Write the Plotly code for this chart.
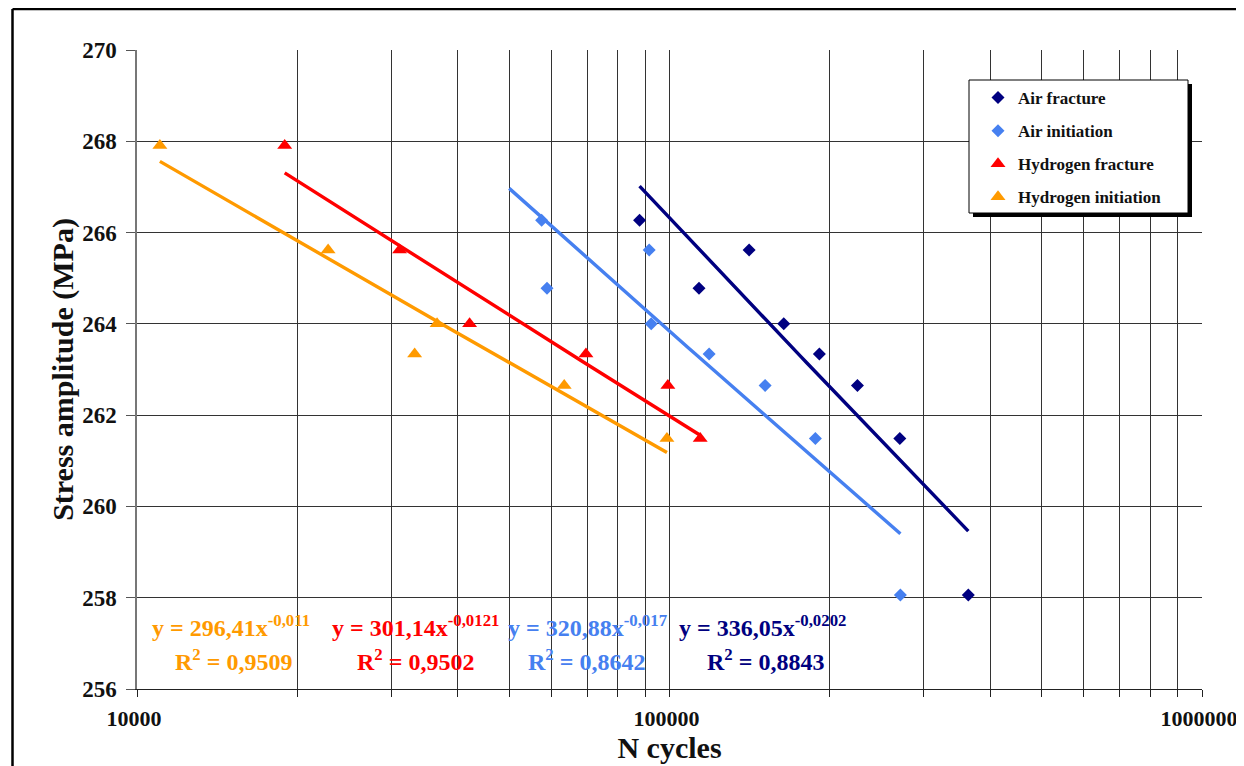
import numpy as np
import plotly.graph_objects as go

# ---------------- data ----------------
air_frac_n = [87850, 113600, 141100, 163900, 191200, 225400, 270700, 364000]
air_frac_s = [266.27, 264.78, 265.62, 264.0, 263.34, 262.65, 261.49, 258.06]

air_init_n = [57520, 58880, 91600, 92400, 118700, 151200, 187900, 271400]
air_init_s = [266.27, 264.78, 265.62, 264.0, 263.34, 262.65, 261.49, 258.06]

h_frac_n = [18940, 31130, 42130, 69680, 99300, 114200]
h_frac_s = [267.91, 265.62, 264.0, 263.34, 262.65, 261.49]

h_init_n = [11040, 22850, 36600, 33220, 63430, 98900]
h_init_s = [267.91, 265.62, 264.0, 263.34, 262.65, 261.49]

# power-law trendlines y = a * x^b  (a, b, x_start, x_end)
fit_h_init = (296.41, -0.011, 11040, 98900)
fit_h_frac = (301.14, -0.0121, 18940, 114200)
fit_air_init = (320.88, -0.017, 50000, 271400)
fit_air_frac = (336.05, -0.0202, 87850, 364000)

eq_text = ["y = 296,41x<sup>-0,011</sup>", "y = 301,14x<sup>-0,0121</sup>",
           "y = 320,88x<sup>-0,017</sup>", "y = 336,05x<sup>-0,0202</sup>"]
r2_text = ["R<sup>2</sup> = 0,9509", "R<sup>2</sup> = 0,9502",
           "R<sup>2</sup> = 0,8642", "R<sup>2</sup> = 0,8843"]

x_tickvals = [1e4, 2e4, 3e4, 4e4, 5e4, 6e4, 7e4, 8e4, 9e4,
              1e5, 2e5, 3e5, 4e5, 5e5, 6e5, 7e5, 8e5, 9e5, 1e6]
x_ticktext = ["10000"] + [""] * 8 + ["100000"] + [""] * 8 + ["1000000"]
y_tickvals = [256, 258, 260, 262, 264, 266, 268, 270]

# ---------------- style ----------------
NAVY = "#000080"
LBLUE = "#4680F0"
RED = "#FF0000"
ORANGE = "#FF9A00"
FONT = "Liberation Serif"

OFF = 8  # page body margin
W, H = 1244 - OFF, 766 - OFF
ML, MT = 137 - OFF, 50 - OFF
MR = W - (1202 - OFF)
MB = H - (689 - OFF)
PW, PH = W - ML - MR, H - MT - MB


def px(xs):
    """screen x pixel -> paper coordinate"""
    return (xs - OFF - ML) / PW


def py(ys):
    """screen y pixel -> paper coordinate"""
    return (H - MB - (ys - OFF)) / PH


fig = go.Figure()


def trend(fit):
    a, b, x0, x1 = fit
    xs = np.logspace(np.log10(x0), np.log10(x1), 60)
    return xs, a * xs ** b


for fit, col in [(fit_h_init, ORANGE), (fit_h_frac, RED),
                 (fit_air_init, LBLUE), (fit_air_frac, NAVY)]:
    xs, ys = trend(fit)
    fig.add_trace(go.Scatter(x=xs, y=ys, mode="lines",
                             line=dict(color=col, width=3.4),
                             showlegend=False, hoverinfo="skip"))

series = [
    ("Air fracture", air_frac_n, air_frac_s, NAVY, "diamond", 10),
    ("Air initiation", air_init_n, air_init_s, LBLUE, "diamond", 10),
    ("Hydrogen fracture", h_frac_n, h_frac_s, RED, "triangle-up", 13),
    ("Hydrogen initiation", h_init_n, h_init_s, ORANGE, "triangle-up", 13),
]
for i, (name, xn, ys, col, sym, sz) in enumerate(series):
    fig.add_trace(go.Scatter(x=xn, y=ys, mode="markers", name=name,
                             legendgroup=f"g{i}",
                             marker=dict(color=col, symbol=sym, size=sz,
                                         line=dict(width=0))))

# legend box (with shadow) drawn as shapes
lx0, lx1, ly0, ly1 = 969, 1188, 80, 213
shapes = [
    dict(type="rect", xref="paper", yref="paper", layer="above",
         x0=px(lx0 + 4), x1=px(lx1 + 4), y0=py(ly1 + 4), y1=py(ly0 + 4),
         fillcolor="black", line=dict(width=0)),
    dict(type="rect", xref="paper", yref="paper", layer="above",
         x0=px(lx0), x1=px(lx1), y0=py(ly1), y1=py(ly0),
         fillcolor="white", line=dict(color="black", width=1)),
    # outer frame of the picture
    dict(type="line", xref="paper", yref="paper", layer="above",
         x0=px(12.5), x1=px(12.5), y0=py(9), y1=py(800),
         line=dict(color="black", width=2.5)),
    dict(type="line", xref="paper", yref="paper", layer="above",
         x0=px(12.5), x1=px(1300), y0=py(9), y1=py(9),
         line=dict(color="black", width=2.5)),
]

annotations = []
eq_cols = [ORANGE, RED, LBLUE, NAVY]
eq_x = [231, 415, 587, 762]
r2_x = [233, 415, 586, 765]
for i in range(4):
    annotations.append(dict(x=px(eq_x[i]), y=py(626), xref="paper", yref="paper",
                            text=eq_text[i], showarrow=False,
                            xanchor="center", yanchor="middle",
                            font=dict(family=FONT, size=24, color=eq_cols[i],
                                      weight="bold")))
    annotations.append(dict(x=px(r2_x[i]), y=py(660), xref="paper", yref="paper",
                            text=r2_text[i], showarrow=False,
                            xanchor="center", yanchor="middle",
                            font=dict(family=FONT, size=24, color=eq_cols[i],
                                      weight="bold")))

fig.update_layout(
    width=W, height=H,
    margin=dict(l=ML, r=MR, t=MT, b=MB, autoexpand=False),
    paper_bgcolor="white", plot_bgcolor="white",
    font=dict(family=FONT, color="black"),
    showlegend=True,
    legend=dict(x=px(978), y=py(80), xanchor="left", yanchor="top",
                bgcolor="rgba(0,0,0,0)", borderwidth=0,
                tracegroupgap=8, itemsizing="trace",
                font=dict(family=FONT, size=17, color="#111111", weight="bold")),
    shapes=shapes,
    annotations=annotations,
    xaxis=dict(type="log", range=[4, 6],
               tickvals=x_tickvals, ticktext=x_ticktext,
               ticks="outside", ticklen=7, tickcolor="#222222",
               showgrid=True, gridcolor="#333333", gridwidth=1,
               showline=True, linecolor="#222222", linewidth=1,
               ticklabelstandoff=3, ticklabelshift=-3,
               tickfont=dict(family=FONT, size=22, color="#111111", weight="bold"),
               title=dict(text="N cycles", standoff=0,
                          font=dict(family=FONT, size=30, color="#111111",
                                    weight="bold")),
               zeroline=False),
    yaxis=dict(range=[256, 270], tickvals=y_tickvals,
               ticks="outside", ticklen=9, tickcolor="#555555",
               showgrid=True, gridcolor="#333333", gridwidth=1,
               showline=True, linecolor="#777777", linewidth=1.5,
               ticklabelstandoff=5,
               tickfont=dict(family=FONT, size=23, color="#111111", weight="bold"),
               title=dict(text="Stress amplitude (MPa)", standoff=0,
                          font=dict(family=FONT, size=30, color="#111111",
                                    weight="bold")),
               zeroline=False),
)

fig.write_html("out.html")
